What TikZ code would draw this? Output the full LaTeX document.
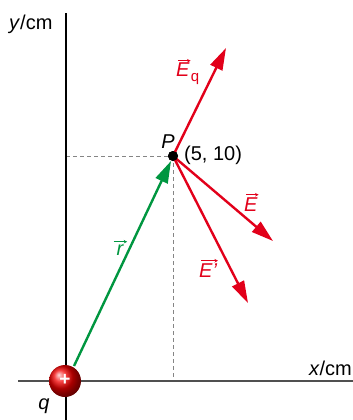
\documentclass[tikz,border=0pt]{standalone}
\usepackage{fontspec}
\setmainfont{Liberation Sans}
\usetikzlibrary{arrows.meta}
\definecolor{vred}{RGB}{226,0,26}
\definecolor{vgreen}{RGB}{0,150,64}
\definecolor{axgray}{RGB}{80,80,80}
\newcommand\vecl[3][0pt]{\tikz[x=1cm,y=1cm,baseline=(t.base)]{\node[inner sep=0pt,outer sep=0pt](t){\itshape #3};
  \draw[line width=0.7pt,-{Stealth[length=3.5pt,width=3.5pt]}] ([yshift=2.5pt,xshift=1pt+#1-#2]t.north west) -- ([yshift=2.5pt,xshift=#1+#2]t.north east);}}
\begin{document}
\begin{tikzpicture}[x=1pt,y=-1pt,
  lbl/.style={inner sep=0pt,font=\fontsize{20}{23}\selectfont},
  redvec/.style={vred,line width=2.4pt,-{Triangle[length=22pt,width=13pt]}},
  guide/.style={axgray!70,line width=0.8pt,dash pattern=on 4pt off 3pt}]
\useasboundingbox (0,0) rectangle (353,420);
\coordinate (O) at (65,381);
\node[circle,fill=black,inner sep=0pt,minimum size=10pt] (P) at (173,156) {};
\coordinate (Eq) at (226,48);
\coordinate (E) at (273,241);
\coordinate (Ep) at (248,303);
\coordinate (ylo) at (66,420);
\coordinate (yhi) at (66,13);
\coordinate (xlo) at (18,381);
\coordinate (xhi) at (353,381);
\coordinate (Px) at (173,381);
\coordinate (Py) at (66,156);
\coordinate (rstart) at (74,366);
\coordinate (rtip) at (171,161);
% guides
\draw[guide] (Py) -- (P.center);
\draw[guide] (P.center) -- (Px);
% axes
\draw[black,line width=1.2pt] (ylo) -- (yhi);
\draw[axgray,line width=2pt] (xlo) -- (xhi);
% vectors
\draw[vgreen,line width=2.4pt,-{Triangle[length=22pt,width=13pt]}] (rstart) -- (rtip);
\draw[redvec] (P.center) -- (Eq);
\draw[redvec] (P.center) -- (E);
\draw[redvec] (P.center) -- (Ep);
\node[circle,fill=black,inner sep=0pt,minimum size=10pt] (Pdot) at (P) {};
% charge
\shade[ball color=red!95!black] (O) circle (16);
\node[inner sep=0pt,white,font=\fontsize{19}{20}\selectfont\bfseries] (plus) at (65,380) {+};
% labels
\node[lbl,anchor=base west] (ylab) at (9,30) {\textit{y}/cm};
\node[lbl,anchor=base east] (xlab) at (352,375) {\textit{x}/cm};
\node[lbl] (qlab) at (44,406) {\textit{q}};
\node[lbl] (Plab) at (168,142) {\textit{P}};
\node[lbl,anchor=west] (coord) at (184,155) {(5, 10)};
\node[lbl,vred,anchor=base west] (Eqlab) at (176,77) {\vecl[1pt]{0pt}{E}\raisebox{-5pt}{\fontsize{15}{16}\selectfont q}};
\node[lbl,vred,anchor=base west] (Elab) at (244,211) {\vecl[1pt]{0pt}{E}};
\node[lbl,vred,anchor=base west] (Eplab) at (199,277) {\vecl[1pt]{0pt}{E'}};
\node[lbl,vgreen,anchor=base west] (rlab) at (113,255) {\vecl{4pt}{r}};
\end{tikzpicture}
\end{document}
